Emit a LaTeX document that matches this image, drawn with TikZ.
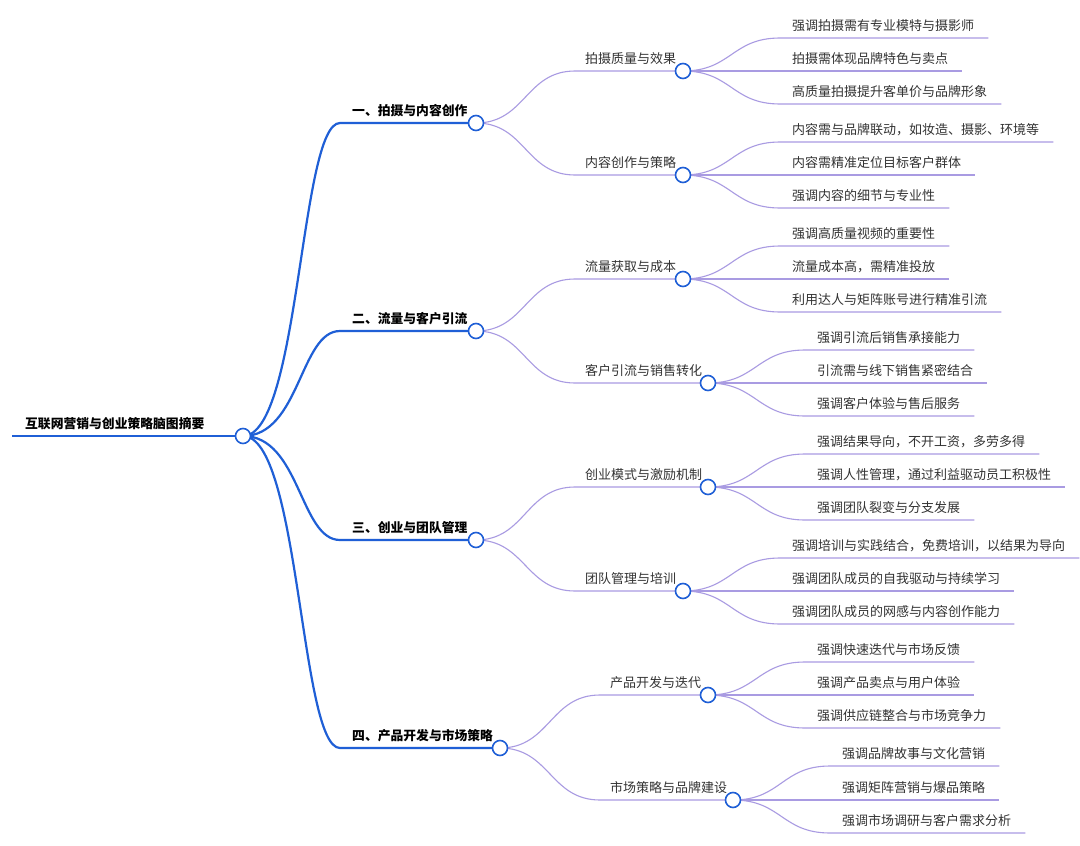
\documentclass[tikz,border=0pt]{standalone}
\usepackage{fontspec}
\setmainfont{Noto Sans CJK SC}
\usetikzlibrary{backgrounds}
\definecolor{bl}{HTML}{1F5FD6}
\definecolor{pu}{HTML}{A99BE2}
\definecolor{tx}{HTML}{333333}
\tikzset{
 dot/.style={circle,draw=bl,fill=white,line width=1.6pt,minimum size=15pt,inner sep=0pt},
 t/.style={inner sep=0pt,anchor=base west,text=tx,font=\fontsize{13}{15}\selectfont},
 tb/.style={t,text=black,font=\fontsize{12.8}{15}\selectfont\bfseries},
 pl/.style={draw=pu,line width=1.1pt},
 bll/.style={draw=bl,line width=2.2pt},
}
\newcommand\lf[7]{%
 \node[t] (#1) at (#5+12,#6-8) {#7};
 \begin{scope}[on background layer]
 \draw[pl] (#2.center) .. controls ({(#3+#5)/2},#4) and ({(#3+#5)/2},#6) .. (#5,#6) -- (#1.east |- 0,#6) -- ++(14,0);
 \end{scope}}
\newcommand\md[8]{%
 \node[dot] (#1) at (#7,#6) {};
 \node[t] (#1t) at (#5+10,#6-8) {#8};
 \begin{scope}[on background layer]
 \draw[pl] (#2.center) .. controls ({(#3+#5)/2},#4) and ({(#3+#5)/2},#6) .. (#5,#6) -- (#1.center);
 \end{scope}}
\newcommand\tp[7]{%
 \node[dot] (#1) at (#6,#5) {};
 \node[tb] (#1t) at (352,#5-8) {#7};
 \begin{scope}[on background layer]
 \draw[bll] (#2.center) .. controls (#4,#3) and (#4,#5) .. (340,#5) -- (#1.center);
 \end{scope}}
\begin{document}
\begin{tikzpicture}[x=1pt,y=-1pt]
\useasboundingbox (0,0) rectangle (1080,846);
\begin{scope}[on background layer]
\fill[white] (0,0) rectangle (1080,846);
\end{scope}
\node[dot] (r) at (243,436) {};
\node[tb] (rt) at (25,428) {互联网营销与创业策略脑图摘要};
\begin{scope}[on background layer]
\draw[bll] (12,436) -- (r.center);
\end{scope}
\tp{a}{r}{436}{300}{123}{476}{一、拍摄与内容创作}
\tp{b}{r}{436}{300}{331}{476}{二、流量与客户引流}
\tp{c}{r}{436}{300}{540}{476}{三、创业与团队管理}
\tp{d}{r}{436}{300}{748}{500}{四、产品开发与市场策略}
%
\md{a1}{a}{476}{123}{575}{71}{683}{拍摄质量与效果}
\md{a2}{a}{476}{123}{575}{175}{683}{内容创作与策略}
\md{b1}{b}{476}{331}{575}{279}{683}{流量获取与成本}
\md{b2}{b}{476}{331}{575}{383}{708}{客户引流与销售转化}
\md{c1}{c}{476}{540}{575}{487}{708}{创业模式与激励机制}
\md{c2}{c}{476}{540}{575}{591}{683}{团队管理与培训}
\md{d1}{d}{500}{748}{600}{695}{708}{产品开发与迭代}
\md{d2}{d}{500}{748}{600}{800}{733}{市场策略与品牌建设}
%
\lf{l1}{a1}{683}{71}{780}{38}{强调拍摄需有专业模特与摄影师}
\lf{l2}{a1}{683}{71}{780}{71}{拍摄需体现品牌特色与卖点}
\lf{l3}{a1}{683}{71}{780}{104}{高质量拍摄提升客单价与品牌形象}
\lf{l4}{a2}{683}{175}{780}{142}{内容需与品牌联动，如妆造、摄影、环境等}
\lf{l5}{a2}{683}{175}{780}{175}{内容需精准定位目标客户群体}
\lf{l6}{a2}{683}{175}{780}{208}{强调内容的细节与专业性}
\lf{l7}{b1}{683}{279}{780}{246}{强调高质量视频的重要性}
\lf{l8}{b1}{683}{279}{780}{279}{流量成本高，需精准投放}
\lf{l9}{b1}{683}{279}{780}{312}{利用达人与矩阵账号进行精准引流}
\lf{l10}{b2}{708}{383}{805}{350}{强调引流后销售承接能力}
\lf{l11}{b2}{708}{383}{805}{383}{引流需与线下销售紧密结合}
\lf{l12}{b2}{708}{383}{805}{416}{强调客户体验与售后服务}
\lf{l13}{c1}{708}{487}{805}{454}{强调结果导向，不开工资，多劳多得}
\lf{l14}{c1}{708}{487}{805}{487}{强调人性管理，通过利益驱动员工积极性}
\lf{l15}{c1}{708}{487}{805}{520}{强调团队裂变与分支发展}
\lf{l16}{c2}{683}{591}{780}{558}{强调培训与实践结合，免费培训，以结果为导向}
\lf{l17}{c2}{683}{591}{780}{591}{强调团队成员的自我驱动与持续学习}
\lf{l18}{c2}{683}{591}{780}{624}{强调团队成员的网感与内容创作能力}
\lf{l19}{d1}{708}{695}{805}{662}{强调快速迭代与市场反馈}
\lf{l20}{d1}{708}{695}{805}{695}{强调产品卖点与用户体验}
\lf{l21}{d1}{708}{695}{805}{728}{强调供应链整合与市场竞争力}
\lf{l22}{d2}{733}{800}{830}{766}{强调品牌故事与文化营销}
\lf{l23}{d2}{733}{800}{830}{800}{强调矩阵营销与爆品策略}
\lf{l24}{d2}{733}{800}{830}{833}{强调市场调研与客户需求分析}
\end{tikzpicture}
\end{document}
